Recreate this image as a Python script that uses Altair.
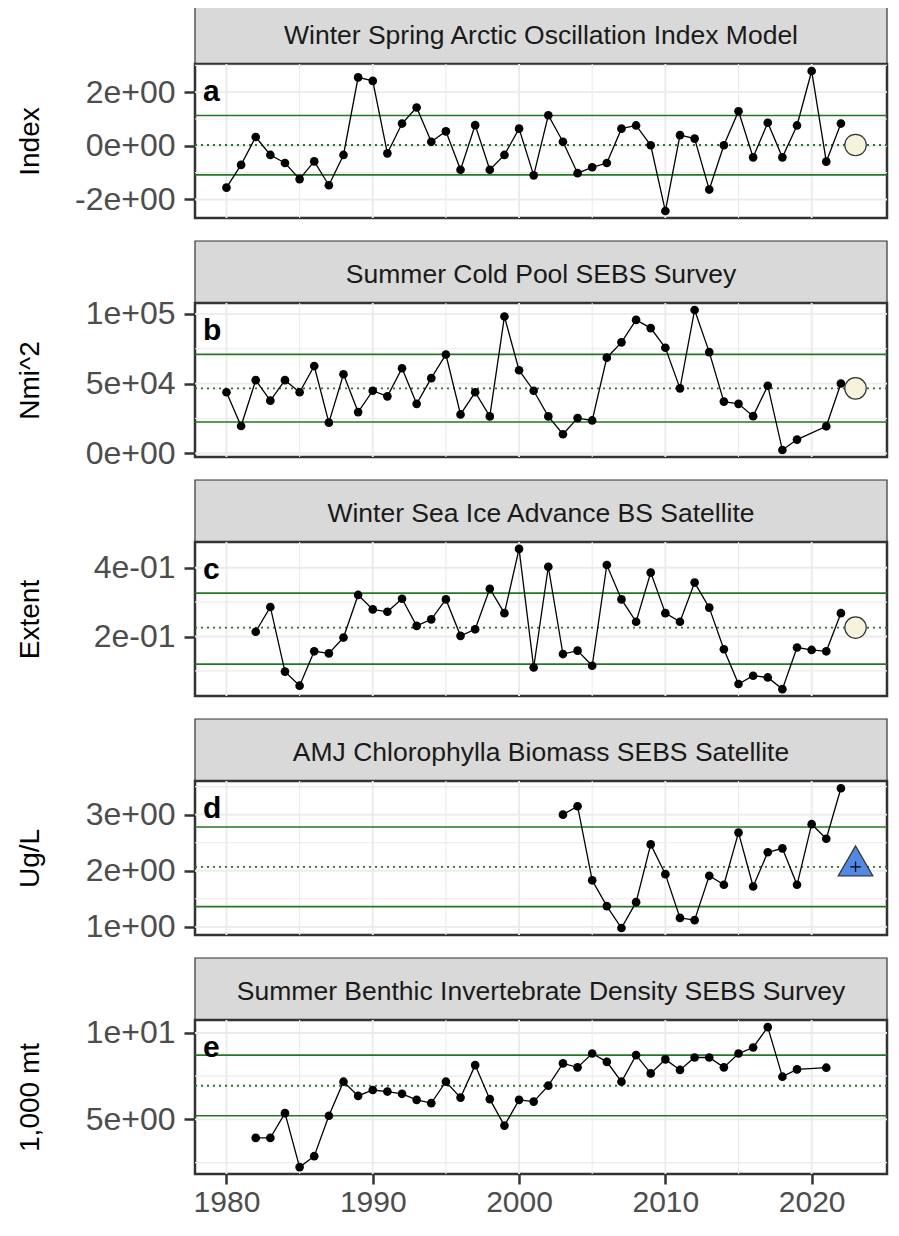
import altair as alt
import pandas as pd

# ---------------- data ----------------
years_a = list(range(1980, 2023))
vals_a = [-1.56, -0.71, 0.33, -0.34, -0.64, -1.24, -0.58, -1.47, -0.34, 2.55,
          2.42, -0.28, 0.83, 1.43, 0.15, 0.54, -0.89, 0.77, -0.89, -0.34,
          0.64, -1.10, 1.14, 0.15, -1.02, -0.80, -0.64, 0.64, 0.76, 0.02,
          -2.43, 0.40, 0.27, -1.63, 0.02, 1.29, -0.43, 0.86, -0.43, 0.76,
          2.79, -0.59, 0.83]

years_b = list(range(1980, 2020)) + [2021, 2022]
vals_b = [43800, 19600, 52500, 37800, 52500, 43800, 62600, 22000, 56700, 29600,
          44900, 40900, 61000, 35500, 53900, 70900, 27900, 43800, 26500, 98100,
          59600, 44900, 26500, 13700, 25300, 23600, 68600, 79600, 95700, 89800,
          75700, 46600, 102800, 72600, 37100, 35500, 26700, 48500, 2400, 9900,
          19400, 50100]

years_c = list(range(1982, 2023))
vals_c = [0.214, 0.286, 0.098, 0.057, 0.157, 0.151, 0.197, 0.321,
          0.279, 0.272, 0.310, 0.231, 0.250, 0.308, 0.202, 0.221, 0.339, 0.268,
          0.455, 0.110, 0.403, 0.149, 0.159, 0.115, 0.408, 0.308, 0.243, 0.386,
          0.268, 0.243, 0.357, 0.284, 0.163, 0.062, 0.086, 0.081, 0.047, 0.168,
          0.161, 0.157, 0.268]

years_d = list(range(2003, 2023))
vals_d = [3.00, 3.15, 1.83, 1.37, 0.98, 1.44, 2.47, 1.94, 1.16, 1.12,
          1.91, 1.75, 2.68, 1.72, 2.33, 2.40, 1.75, 2.83, 2.57, 3.47]

years_e = list(range(1982, 2020)) + [2021]
vals_e = [3.93, 3.93, 5.36, 2.24, 2.87, 5.21, 7.18, 6.36,
          6.70, 6.61, 6.48, 6.13, 5.94, 7.18, 6.26, 8.14, 6.17, 4.64,
          6.13, 6.03, 6.95, 8.24, 8.01, 8.81, 8.33, 7.18, 8.72, 7.66,
          8.47, 7.86, 8.58, 8.58, 8.01, 8.81, 9.16, 10.34, 7.47, 7.89,
          7.99]

titles = ["Winter Spring Arctic Oscillation Index Model",
          "Summer Cold Pool SEBS Survey",
          "Winter Sea Ice Advance BS Satellite",
          "AMJ Chlorophylla Biomass SEBS Satellite",
          "Summer Benthic Invertebrate Density SEBS Survey"]
ytitles = ["Index", "Nmi^2", "Extent", "Ug/L", "1,000 mt"]
letters = ["a", "b", "c", "d", "e"]

means = [0.03, 46600, 0.226, 2.07, 6.95]
uppers = [1.13, 70900, 0.326, 2.78, 8.72]
lowers = [-1.08, 22500, 0.120, 1.36, 5.21]

marker_year = 2023
marker_kind = ["circle", "circle", "circle", "triangle", None]

y_domains = [[-2.69, 3.05], [-2600, 107800], [0.027, 0.475], [0.855, 3.6], [1.84, 10.75]]
y_major = [[-2, 0, 2], [0, 50000, 100000], [0.2, 0.4], [1, 2, 3], [5, 10]]
y_minor = [[-1, 1, 3], [25000, 75000], [0.1, 0.3], [1.5, 2.5, 3.5], [2.5, 7.5]]

x_domain = [1977.85, 2025.15]
x_major = [1980, 1990, 2000, 2010, 2020]
x_minor = [1985, 1995, 2005, 2015]

series = [(years_a, vals_a), (years_b, vals_b), (years_c, vals_c),
          (years_d, vals_d), (years_e, vals_e)]

# ---------------- style ----------------
W = 692
H = 154
SH = 62
GAP = 23
FONT = "Liberation Sans"
GREEN = "#1F7A1F"
GRID = "#EBEBEB"


def lab_expr(vals):
    expr = "''"
    for v in reversed(vals):
        expr = f"datum.value == {v!r} ? '{v:.0e}' : ({expr})"
    return expr


def strip_chart(title, gap):
    df = pd.DataFrame({"t": [title]})
    base = alt.Chart(df)
    rect = base.mark_rect(fill="#D9D9D9", stroke="#333333", strokeWidth=1.2).encode(
        x=alt.value(0), x2=alt.value(W), y=alt.value(gap), y2=alt.value(gap + SH))
    txt = base.mark_text(fontSize=26.5, color="#1A1A1A", font=FONT).encode(
        text="t:N", x=alt.value(W / 2), y=alt.value(gap + SH / 2 + 3))
    return alt.layer(rect, txt).properties(width=W, height=SH + gap)


def panel(i, show_x):
    yrs, vals = series[i]
    df = pd.DataFrame({"year": yrs, "value": vals})
    xs = alt.Scale(domain=x_domain, nice=False, zero=False)
    ys = alt.Scale(domain=y_domains[i], nice=False, zero=False)

    if show_x:
        xaxis = alt.Axis(values=x_major, format="d", title=None, labelFontSize=30,
                         labelColor="#4D4D4D", labelFont=FONT, tickColor="#333333",
                         tickWidth=2.5, tickSize=10, labelPadding=3, domain=False,
                         grid=False, labelFlush=False)
    else:
        xaxis = None
    yaxis = alt.Axis(values=y_major[i], labelExpr=lab_expr(y_major[i]), title=ytitles[i],
                     titleFontWeight="normal", titleFontSize=28, titleColor="black",
                     titleFont=FONT, titleX=-157, titleY=H / 2, titleBaseline="alphabetic",
                     titleAlign="center", labelFontSize=32, labelColor="#4D4D4D",
                     labelFont=FONT, tickColor="#333333", tickWidth=2.5, tickSize=11,
                     labelPadding=9, domain=False, grid=False, labelFlush=False)

    def X(field):
        return alt.X(field, scale=xs, axis=xaxis)

    def Y(field):
        return alt.Y(field, scale=ys, axis=yaxis)

    layers = []
    gx_minor = pd.DataFrame({"v": x_minor})
    gx_major = pd.DataFrame({"v": x_major})
    gy_minor = pd.DataFrame({"v": y_minor[i]})
    gy_major = pd.DataFrame({"v": y_major[i]})
    layers.append(alt.Chart(gx_minor).mark_rule(color=GRID, strokeWidth=1.1, clip=True).encode(
        x=X("v:Q")))
    layers.append(alt.Chart(gy_minor).mark_rule(color=GRID, strokeWidth=1.1, clip=True).encode(
        y=Y("v:Q")))
    layers.append(alt.Chart(gx_major).mark_rule(color=GRID, strokeWidth=1.9, clip=True).encode(
        x=X("v:Q")))
    layers.append(alt.Chart(gy_major).mark_rule(color=GRID, strokeWidth=1.9, clip=True).encode(
        y=Y("v:Q")))

    lim = pd.DataFrame({"v": [uppers[i], lowers[i]]})
    layers.append(alt.Chart(lim).mark_rule(color=GREEN, strokeWidth=1.7).encode(y=Y("v:Q")))
    mn = pd.DataFrame({"v": [means[i]]})
    layers.append(alt.Chart(mn).mark_rule(color=GREEN, strokeWidth=1.9, strokeDash=[2, 4]).encode(
        y=Y("v:Q")))

    base = alt.Chart(df)
    layers.append(base.mark_line(color="black", strokeWidth=1.3).encode(
        x=X("year:Q"), y=Y("value:Q")))
    layers.append(base.mark_point(filled=True, color="black", size=75, opacity=1).encode(
        x=X("year:Q"), y=Y("value:Q")))

    mk = marker_kind[i]
    if mk is not None:
        mdf = pd.DataFrame({"year": [marker_year], "value": [means[i]]})
        if mk == "circle":
            layers.append(alt.Chart(mdf).mark_point(shape="circle", filled=True, fill="#F5F3DC",
                                                    stroke="#333333", strokeWidth=1.2, size=460,
                                                    opacity=1, fillOpacity=1).encode(
                x=X("year:Q"), y=Y("value:Q")))
        else:
            layers.append(alt.Chart(mdf).mark_point(shape="triangle-up", filled=True, fill="#5089E6",
                                                    stroke="#333333", strokeWidth=1.2, size=1200,
                                                    opacity=1, fillOpacity=1, yOffset=-6).encode(
                x=X("year:Q"), y=Y("value:Q")))
            layers.append(alt.Chart(mdf).mark_point(shape="M-1,0L1,0M0,-1L0,1", filled=False,
                                                    stroke="black", strokeWidth=1.3, size=110,
                                                    opacity=1).encode(
                x=X("year:Q"), y=Y("value:Q")))

    ldf = pd.DataFrame({"t": [letters[i]]})
    layers.append(alt.Chart(ldf).mark_text(font=FONT, fontSize=30, fontWeight="bold", color="black",
                                           align="left", baseline="middle").encode(
        text="t:N", x=alt.value(8), y=alt.value(28)))

    return alt.layer(*layers).properties(
        width=W, height=H,
        view=alt.ViewBackground(fill="white", stroke="#333333", strokeWidth=2.5))


charts = []
for i in range(5):
    charts.append(strip_chart(titles[i], 0 if i == 0 else GAP))
    charts.append(panel(i, i == 4))

chart = alt.vconcat(*charts, spacing=0, bounds="flush").properties(
    padding={"left": 6, "top": -7, "right": 0, "bottom": 0}
).configure(font=FONT, background="white").configure_view(stroke=None)

chart.save("out.html", embed_options={"renderer": "svg", "actions": False})
